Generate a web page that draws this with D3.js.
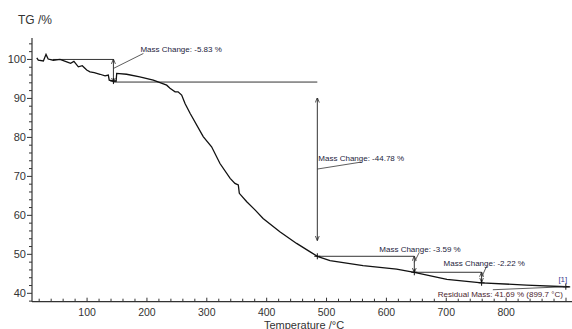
<!DOCTYPE html>
<html>
<head>
<meta charset="utf-8">
<script src="https://cdn.jsdelivr.net/npm/d3@7"></script>
<style>
  body { margin: 0; background: #fff; }
  svg { display: block; font-family: "Liberation Sans", Arial, sans-serif; }
</style>
</head>
<body>
<svg id="chart" width="572" height="329"></svg>
<script>
// TG curve
const temps = [16, 18.5, 27, 31.4, 35, 43.6, 54.8, 66, 72.5, 78, 85.4, 92, 99.4, 104.9, 112, 121.6, 130, 135.5, 137, 144, 148.5, 149.5, 166, 188, 210.6, 233, 238.5, 247, 252, 258, 263.6, 272, 294, 308, 322, 339, 347, 352.6, 354.3, 366.7, 380.5, 394, 422, 450, 472, 484.6, 505.8, 561, 617, 646.6, 701, 759, 834, 899.7, 907];
const tg = [100.4, 99.8, 99.6, 101.3, 100.1, 99.8, 100, 99.4, 99, 99.5, 98.1, 98.4, 97.3, 96.8, 96.6, 96.2, 95.8, 96.0, 94.7, 94.45, 94.45, 96.4, 96.2, 95.55, 94.7, 93.4, 92.6, 91.7, 91.7, 90.85, 88.7, 86.2, 80.2, 77.6, 73.3, 69.5, 68.2, 67.8, 65.65, 63.5, 61.4, 59.2, 55.8, 52.8, 50.7, 49.5, 48.4, 47.1, 46.2, 45.4, 43.6, 42.7, 42.1, 41.69, 41.65];

// mass change steps
const stepStart = [43, 144, 484.6, 646.6];
const stepEnd = [144, 484.6, 646.6, 759];
const stepHigh = [100, 94.2, 49.5, 45.4];
const stepLow = [94.2, 49.5, 45.4, 42.9];
const stepLabels = ["Mass Change: -5.83 %", "Mass Change: -44.78 %", "Mass Change: -3.59 %", "Mass Change: -2.22 %"];

const residualTemp = 899.7;
const residualValue = 41.69;
const residualLabel = "Residual Mass: 41.69 % (899.7 °C)";

const xTicks = [100, 200, 300, 400, 500, 600, 700, 800];
const yTicks = [40, 50, 60, 70, 80, 90, 100];

const svg = d3.select("#chart");
const x = d3.scaleLinear().domain([8, 910]).range([32, 572]);
const y = d3.scaleLinear().domain([37.85, 105.5]).range([301.7, 38]);

svg.append("defs").append("marker")
  .attr("id", "arrow")
  .attr("viewBox", "0 0 10 10")
  .attr("refX", 9).attr("refY", 5)
  .attr("markerWidth", 5).attr("markerHeight", 5)
  .attr("orient", "auto-start-reverse")
  .append("path")
  .attr("d", "M0,1 L10,5 L0,9")
  .attr("fill", "none")
  .attr("stroke", "#222")
  .attr("stroke-width", 1.5);

// axes
const xMinor = d3.range(20, 901, 20);
const yMinor = d3.range(38, 106, 2);

const gx = svg.append("g").attr("transform", `translate(0,${y.range()[0]})`);
gx.append("line").attr("x1", 32).attr("x2", 572).attr("stroke", "#333").attr("stroke-width", 1.2);
gx.selectAll(".mt").data(xMinor).join("line")
  .attr("x1", d => x(d)).attr("x2", d => x(d))
  .attr("y1", 0).attr("y2", d => (d % 100 === 0 ? -4 : -3))
  .attr("stroke", "#333");
gx.selectAll("text").data(xTicks).join("text")
  .attr("x", d => x(d)).attr("y", 14)
  .attr("text-anchor", "middle")
  .attr("font-size", 10.5).attr("fill", "#333")
  .text(d => d);

const gy = svg.append("g").attr("transform", "translate(32,0)");
gy.append("line").attr("y1", 38).attr("y2", y.range()[0]).attr("stroke", "#333").attr("stroke-width", 1.2);
gy.selectAll(".mt").data(yMinor).join("line")
  .attr("y1", d => y(d)).attr("y2", d => y(d))
  .attr("x1", 0).attr("x2", d => (d % 10 === 0 ? -5 : -3))
  .attr("stroke", "#333");
gy.selectAll("text").data(yTicks).join("text")
  .attr("x", -6).attr("y", d => y(d) + 4)
  .attr("text-anchor", "end")
  .attr("font-size", 11).attr("fill", "#333")
  .text(d => d);

svg.append("text").attr("x", 18).attr("y", 24)
  .attr("font-size", 12).attr("fill", "#333").text("TG /%");
svg.append("text").attr("x", 304).attr("y", 328.5)
  .attr("text-anchor", "middle")
  .attr("font-size", 11).attr("fill", "#333").text("Temperature /°C");

// step lines
const ann = svg.append("g").attr("stroke", "#333").attr("fill", "none");
stepStart.forEach((t0, i) => {
  const t1 = stepEnd[i];
  ann.append("line")
    .attr("x1", x(t0)).attr("x2", x(t1))
    .attr("y1", y(stepHigh[i])).attr("y2", y(stepHigh[i]));
  const gap = stepHigh[i] - stepLow[i] > 10 ? 16 : 0;
  ann.append("line")
    .attr("x1", x(t1)).attr("x2", x(t1))
    .attr("y1", y(stepHigh[i]) + gap).attr("y2", y(stepLow[i]) - gap)
    .attr("marker-start", "url(#arrow)")
    .attr("marker-end", "url(#arrow)");
});

// label placement relative to the step corner
const place = [
  { lx: 27, ly: -7, f: 9, tx: 30, ty: -6 },
  { lx: 1, ly: 79, f: 87, tx: 44, ty: 80 },
  { lx: -35, ly: -4, f: 6, tx: 5, ty: -4 },
  { lx: -38, ly: -6, f: 5, tx: 5, ty: -6 }
];
stepEnd.forEach((t1, i) => {
  const px = x(t1), py = y(stepHigh[i]), p = place[i];
  ann.append("line")
    .attr("x1", px).attr("y1", py + p.f)
    .attr("x2", px + p.tx).attr("y2", py + p.ty)
    .attr("stroke-width", 0.8);
  svg.append("text")
    .attr("x", px + p.lx).attr("y", py + p.ly)
    .attr("font-size", 8).attr("fill", "#1c1c3c")
    .text(stepLabels[i]);
});

// TG curve
svg.append("path")
  .datum(temps.map((t, i) => [t, tg[i]]))
  .attr("fill", "none")
  .attr("stroke", "#111")
  .attr("stroke-width", 1.3)
  .attr("d", d3.line().x(d => x(d[0])).y(d => y(d[1])));

// crosses on the curve at step temperatures
const crossAt = stepEnd.concat([residualTemp]);
svg.selectAll(".cross").data(crossAt).join("path")
  .attr("stroke", "#111")
  .attr("d", t => {
    const i = d3.bisectLeft(temps, t);
    const v = i < temps.length && temps[i] === t ? tg[i] : d3.interpolateNumber(tg[i - 1], tg[i])((t - temps[i - 1]) / (temps[i] - temps[i - 1]));
    const cx = x(t), cy = y(v);
    return `M${cx - 3},${cy}H${cx + 3}M${cx},${cy - 3}V${cy + 3}`;
  });

// residual mass
const rx = x(residualTemp), ry = y(residualValue);
svg.append("line")
  .attr("x1", rx).attr("y1", ry)
  .attr("x2", rx - 73).attr("y2", ry + 3)
  .attr("stroke", "#333").attr("stroke-width", 0.8);
svg.append("text")
  .attr("x", rx - 3).attr("y", ry - 5)
  .attr("text-anchor", "middle")
  .attr("font-size", 8).attr("fill", "#3c3c8c").text("[1]");
svg.append("text")
  .attr("x", rx - 3).attr("y", ry + 10)
  .attr("text-anchor", "end")
  .attr("font-size", 8).attr("fill", "#4a1e2e").text(residualLabel);
</script>
</body>
</html>
